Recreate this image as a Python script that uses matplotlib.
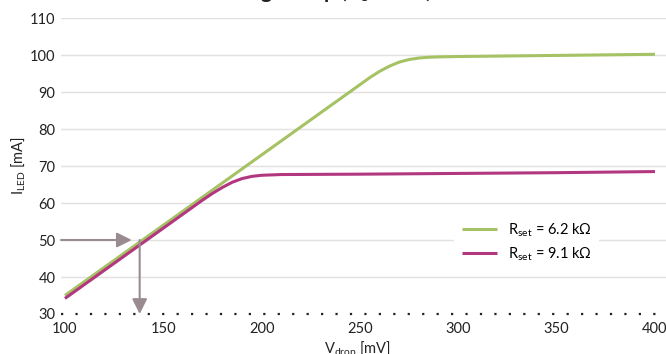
import matplotlib
matplotlib.use('Agg')
import matplotlib.pyplot as plt

plt.rcParams['font.family'] = ['Lato', 'DejaVu Sans']
plt.rcParams['mathtext.fontset'] = 'custom'
plt.rcParams['mathtext.rm'] = 'Lato'

# values
v_green = [100, 125, 150, 175, 200, 225, 250, 255, 260, 265, 270, 275, 280, 285, 290, 300, 350, 400]
i_green = [35.0, 44.5, 54.0, 63.5, 73.0, 82.5, 92.0, 93.9, 95.6, 97.0, 98.1, 98.8, 99.2, 99.4, 99.5, 99.6, 99.9, 100.2]

v_magenta = [100, 125, 150, 170, 175, 180, 185, 190, 195, 200, 210, 250, 300, 350, 400]
i_magenta = [34.2, 43.7, 53.2, 60.8, 62.6, 64.2, 65.6, 66.6, 67.2, 67.5, 67.7, 67.8, 68.0, 68.2, 68.5]

labels = ['R$_\\mathregular{set}$ = 6.2 kΩ', 'R$_\\mathregular{set}$ = 9.1 kΩ']
colors = ['#a5c264', '#b2377f']

# example read-out marked by arrows
example_v = 138
example_i = 50
arrow_start_v = 98

xticks = [100, 150, 200, 250, 300, 350, 400]
yticks = [30, 40, 50, 60, 70, 80, 90, 100, 110]

fig = plt.figure(figsize=(6.66, 3.54), dpi=100)
ax = fig.add_axes([0.0916, 0.113, 0.9084, 0.836])

ax.plot(v_green, i_green, color=colors[0], lw=2.2, label=labels[0], solid_capstyle='butt')
ax.plot(v_magenta, i_magenta, color=colors[1], lw=2.2, label=labels[1], solid_capstyle='butt')

ax.set_xlim(98, 405.6)
ax.set_ylim(30, 110)
ax.set_xticks(xticks)
ax.set_yticks(yticks)
ax.tick_params(length=0, labelsize=10.5, colors='#222222')
ax.tick_params(axis='y', pad=4)
ax.tick_params(axis='x', pad=6)

for y in yticks[1:]:
    ax.axhline(y, color='#e4e0e0', lw=1, zorder=0)
for s in ax.spines.values():
    s.set_visible(False)
ax.axhline(30, color='#222222', lw=1.6, linestyle=(0, (1, 5.5)), clip_on=False)

arrow_color = '#9a8b91'
astyle = '-|>,head_length=0.6,head_width=0.3'
ax.annotate('', xy=(example_v - 4, example_i), xytext=(arrow_start_v, example_i),
            arrowprops=dict(arrowstyle=astyle, color=arrow_color, lw=1.5,
                            shrinkA=0, shrinkB=0, mutation_scale=15))
ax.annotate('', xy=(example_v, 30), xytext=(example_v, example_i),
            arrowprops=dict(arrowstyle=astyle, color=arrow_color, lw=1.5,
                            shrinkA=0, shrinkB=0, mutation_scale=15))

ax.set_xlabel('V$_\\mathregular{drop}$ [mV]', fontsize=10.5, color='#222222')
ax.xaxis.set_label_coords(0.49, -0.085)
ax.set_ylabel('I$_\\mathregular{LED}$ [mA]', fontsize=10.5, color='#222222')
ax.yaxis.set_label_coords(-0.055, 0.5)

leg = ax.legend(loc='center', bbox_to_anchor=(0.77, 0.243), frameon=True, fontsize=10.5,
                handlelength=2.4, borderpad=0.5, labelspacing=0.4, handletextpad=0.8)
leg.get_frame().set_facecolor('white')
leg.get_frame().set_edgecolor('none')
leg.get_frame().set_alpha(1)

fig.text(0.09, 1.007, 'LED Current vs. Voltage Drop (R$_\\mathregular{S}$ = 0 Ω)',
         va='baseline', ha='left', fontsize=15, fontweight='bold', color='#222222')

fig.savefig('out.png', dpi=100)
